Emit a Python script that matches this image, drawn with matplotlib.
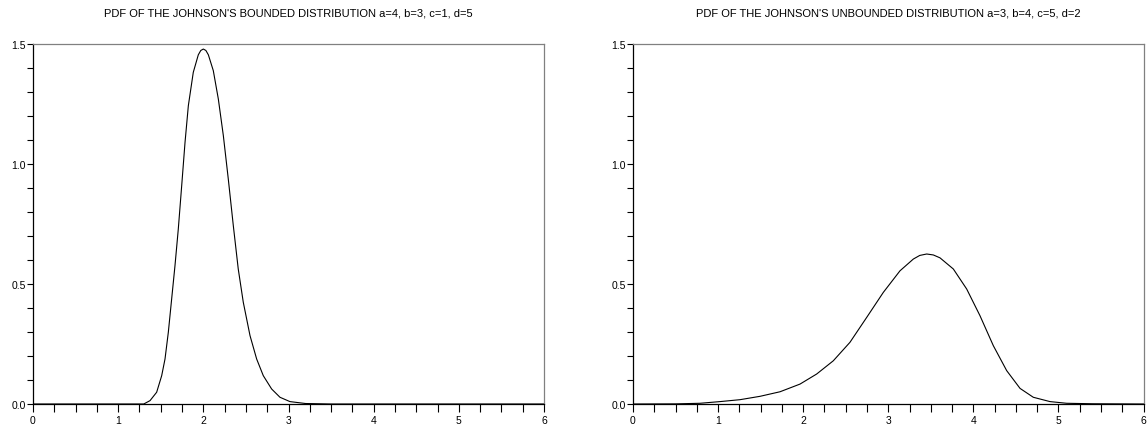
import matplotlib
matplotlib.use('Agg')
import matplotlib.pyplot as plt
from matplotlib.ticker import MultipleLocator, FormatStrFormatter

plt.rcParams['font.family'] = ['Liberation Sans', 'DejaVu Sans']

# curve values
bounded_x = [0, 1.30, 1.374, 1.452, 1.511, 1.55, 1.589, 1.628, 1.667, 1.706, 1.746,
             1.785, 1.824, 1.882, 1.941, 1.97, 2.0, 2.03, 2.059, 2.117, 2.176, 2.235,
             2.293, 2.352, 2.41, 2.469, 2.548, 2.626, 2.704, 2.802, 2.9, 3.017, 3.2,
             3.5, 6]
bounded_y = [0, 0, 0.014, 0.049, 0.118, 0.1875, 0.299, 0.4375, 0.576, 0.729, 0.91,
             1.09, 1.243, 1.382, 1.455, 1.473, 1.479, 1.473, 1.455, 1.389, 1.271, 1.118,
             0.9375, 0.743, 0.5625, 0.424, 0.285, 0.1875, 0.118, 0.0625, 0.028, 0.01, 0.002,
             0, 0]

unbounded_x = [0, 0.5, 0.787, 1.023, 1.258, 1.493, 1.728, 1.963, 2.159, 2.354, 2.55,
               2.747, 2.942, 3.138, 3.295, 3.37, 3.452, 3.53, 3.608, 3.765, 3.922, 4.078,
               4.235, 4.392, 4.549, 4.705, 4.901, 5.097, 5.4, 6]
unbounded_y = [0, 0.0005, 0.003, 0.01, 0.018, 0.032, 0.051, 0.083, 0.125, 0.18, 0.257,
               0.361, 0.465, 0.555, 0.604, 0.619, 0.625, 0.621, 0.609, 0.5625, 0.479, 0.368,
               0.243, 0.139, 0.065, 0.028, 0.01, 0.003, 0.001, 0]

titles = ["PDF OF THE JOHNSON'S BOUNDED DISTRIBUTION a=4, b=3, c=1, d=5",
          "PDF OF THE JOHNSON'S UNBOUNDED DISTRIBUTION a=3, b=4, c=5, d=2"]

fig = plt.figure(figsize=(11.47, 4.27), dpi=100)
W, H = 1147, 427
boxes = [(33, 544), (633, 1143.5)]
data = [(bounded_x, bounded_y), (unbounded_x, unbounded_y)]

for (x0, x1), (xs, ys), title in zip(boxes, data, titles):
    ax = fig.add_axes([x0 / W, 22 / H, (x1 - x0) / W, 360 / H])
    ax.plot(xs, ys, color='black', lw=0.8, solid_joinstyle='round')
    ax.set_xlim(0, 6)
    ax.set_ylim(0, 1.5)
    ax.xaxis.set_major_locator(MultipleLocator(1))
    ax.xaxis.set_minor_locator(MultipleLocator(0.25))
    ax.yaxis.set_major_locator(MultipleLocator(0.5))
    ax.yaxis.set_minor_locator(MultipleLocator(0.1))
    ax.yaxis.set_major_formatter(FormatStrFormatter('%.1f'))
    ax.tick_params(axis='x', which='both', direction='out', length=6, width=0.8,
                   labelsize=7.5, pad=2, color='black')
    ax.tick_params(axis='y', which='both', direction='out', length=4, width=0.8,
                   labelsize=7.5, pad=1, color='black')
    for s in ['left', 'bottom']:
        ax.spines[s].set_color('black')
        ax.spines[s].set_linewidth(0.9)
    for s in ['top', 'right']:
        ax.spines[s].set_color('#808080')
        ax.spines[s].set_linewidth(0.9)
    fig.text((x0 + x1) / 2 / W, 1 - 14 / H, title, ha='center', va='center', fontsize=8)

fig.savefig('out.png', dpi=100)
